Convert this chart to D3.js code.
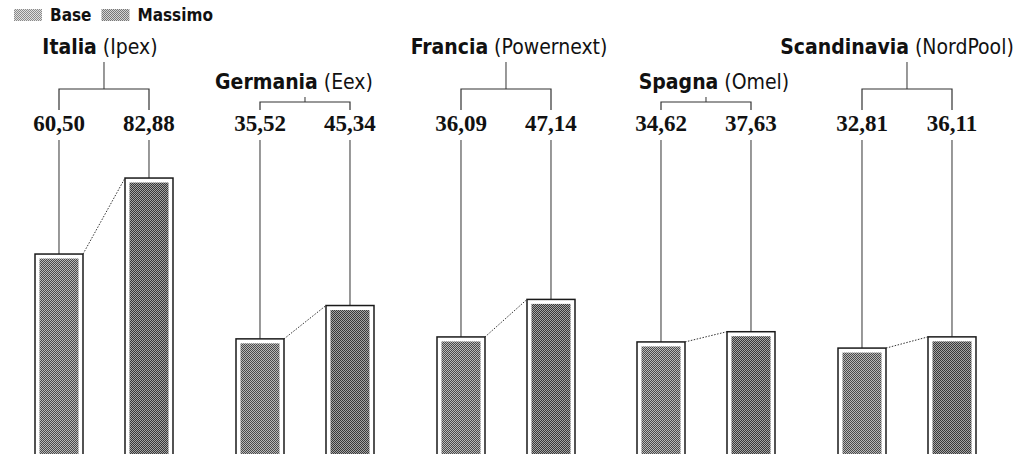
<!DOCTYPE html>
<html>
<head>
<meta charset="utf-8">
<script src="https://cdn.jsdelivr.net/npm/d3@7"></script>
<style>
  body { margin: 0; background: #fff; }
  .title { font-family: "DejaVu Sans Condensed", "DejaVu Sans", sans-serif; font-stretch: condensed; font-size: 21px; fill: #111; }
  .num { font-family: "Liberation Serif", serif; font-weight: bold; font-size: 23px; fill: #111; }
  .legend { font-family: "DejaVu Sans Condensed", "DejaVu Sans", sans-serif; font-stretch: condensed; font-weight: bold; font-size: 17px; fill: #111; }
</style>
</head>
<body>
<svg id="chart" width="1027" height="454"></svg>
<script>
// prezzi medi dell'elettricita, euro/MWh
var countries = ["Italia", "Germania", "Francia", "Spagna", "Scandinavia"];
var markets = ["Ipex", "Eex", "Powernext", "Omel", "NordPool"];
var series = ["Base", "Massimo"];
var baseValues = [60.50, 35.52, 36.09, 34.62, 32.81];
var maxValues = [82.88, 45.34, 47.14, 37.63, 36.11];

// small horizontal nudges of the titles, as set in the page
var titleShift = [-4, -11, 3, 8, -10];

var it = d3.formatLocale({decimal: ",", thousands: ".", grouping: [3], currency: ["", " €"]});
var fmt = it.format(".2f");

var svg = d3.select("#chart");

var x = d3.scaleBand()
    .domain(countries)
    .range([35, 976])
    .paddingInner(0.3126)
    .paddingOuter(0);

var xs = d3.scaleBand()
    .domain(series)
    .range([0, x.bandwidth()])
    .paddingInner(0.4667);

var y = d3.scaleLinear()
    .domain([0, 100])
    .range([459.5, 119.9]);

// halftone-like fills
var defs = svg.append("defs");
function checker(id, dark, light) {
  var p = defs.append("pattern")
      .attr("id", id)
      .attr("patternUnits", "userSpaceOnUse")
      .attr("width", 2).attr("height", 2);
  p.append("rect").attr("width", 2).attr("height", 2).attr("fill", light);
  p.append("rect").attr("width", 1).attr("height", 1).attr("fill", dark);
  p.append("rect").attr("x", 1).attr("y", 1).attr("width", 1).attr("height", 1).attr("fill", dark);
}
checker("fillBase", "#4a4a4a", "#b8b8b8");
checker("fillMax", "#383838", "#a4a4a4");
checker("legBase", "#8a8a8a", "#e0e0e0");
checker("legMax", "#777", "#d4d4d4");
var fills = {Base: "url(#fillBase)", Massimo: "url(#fillMax)"};
var legFills = {Base: "url(#legBase)", Massimo: "url(#legMax)"};

// legend
var legend = svg.append("g").attr("class", "legend");
var lx = 14;
series.forEach(function(s) {
  legend.append("rect")
      .attr("x", lx).attr("y", 9)
      .attr("width", 28).attr("height", 12)
      .attr("fill", legFills[s]);
  var t = legend.append("text")
      .attr("x", lx + 36).attr("y", 21)
      .text(s);
  lx += 36 + t.node().getComputedTextLength() + 10;
});

var data = countries.map(function(c, i) {
  return {country: c, market: markets[i], values: [baseValues[i], maxValues[i]], row: i % 2, shift: titleShift[i]};
});

var groups = svg.selectAll("g.country")
    .data(data)
  .enter().append("g")
    .attr("class", "country")
    .attr("transform", function(d) { return "translate(" + Math.round(x(d.country)) + ",0)"; });

var half = xs.bandwidth() / 2;
var inset = 4.5;
var titleBase = [54, 89];
var bracketY = [89, 102];

groups.each(function(d) {
  var g = d3.select(this);
  var c1 = xs("Base") + half, c2 = xs("Massimo") + half;
  var mid = (c1 + c2) / 2;
  var ty = titleBase[d.row], by = bracketY[d.row];

  var t = g.append("text").attr("class", "title")
      .attr("x", mid + d.shift).attr("y", ty)
      .attr("text-anchor", "middle");
  t.append("tspan").attr("font-weight", "bold").text(d.country);
  t.append("tspan").text(" (" + d.market + ")");

  // bracket
  g.append("line").attr("x1", mid).attr("x2", mid).attr("y1", ty + 8).attr("y2", by)
      .attr("stroke", "#333").attr("stroke-width", 1);
  g.append("path")
      .attr("d", "M" + c1 + "," + 110 + "V" + by + "H" + c2 + "V" + 110)
      .attr("fill", "none").attr("stroke", "#333").attr("stroke-width", 1.2);

  series.forEach(function(s, k) {
    var v = d.values[k];
    var bx = xs(s), cx = bx + half;
    g.append("text").attr("class", "num")
        .attr("x", cx).attr("y", 131)
        .attr("text-anchor", "middle")
        .text(fmt(v));
    g.append("line").attr("x1", cx).attr("x2", cx)
        .attr("y1", 140).attr("y2", y(v))
        .attr("stroke", "#333").attr("stroke-width", 1);
    g.append("rect")
        .attr("x", bx).attr("y", y(v))
        .attr("width", xs.bandwidth()).attr("height", y(0) - y(v))
        .attr("fill", "#fff").attr("stroke", "#1a1a1a").attr("stroke-width", 1.5);
    g.append("rect")
        .attr("x", bx + inset).attr("y", y(v) + inset)
        .attr("width", xs.bandwidth() - 2 * inset).attr("height", y(0) - y(v) - inset)
        .attr("fill", fills[s]);
  });

  // dotted connector between the two bar tops
  g.append("line")
      .attr("x1", xs("Base") + xs.bandwidth()).attr("y1", y(d.values[0]))
      .attr("x2", xs("Massimo")).attr("y2", y(d.values[1]))
      .attr("stroke", "#333").attr("stroke-width", 1)
      .attr("stroke-dasharray", "1.5,1.5");
});
</script>
</body>
</html>
